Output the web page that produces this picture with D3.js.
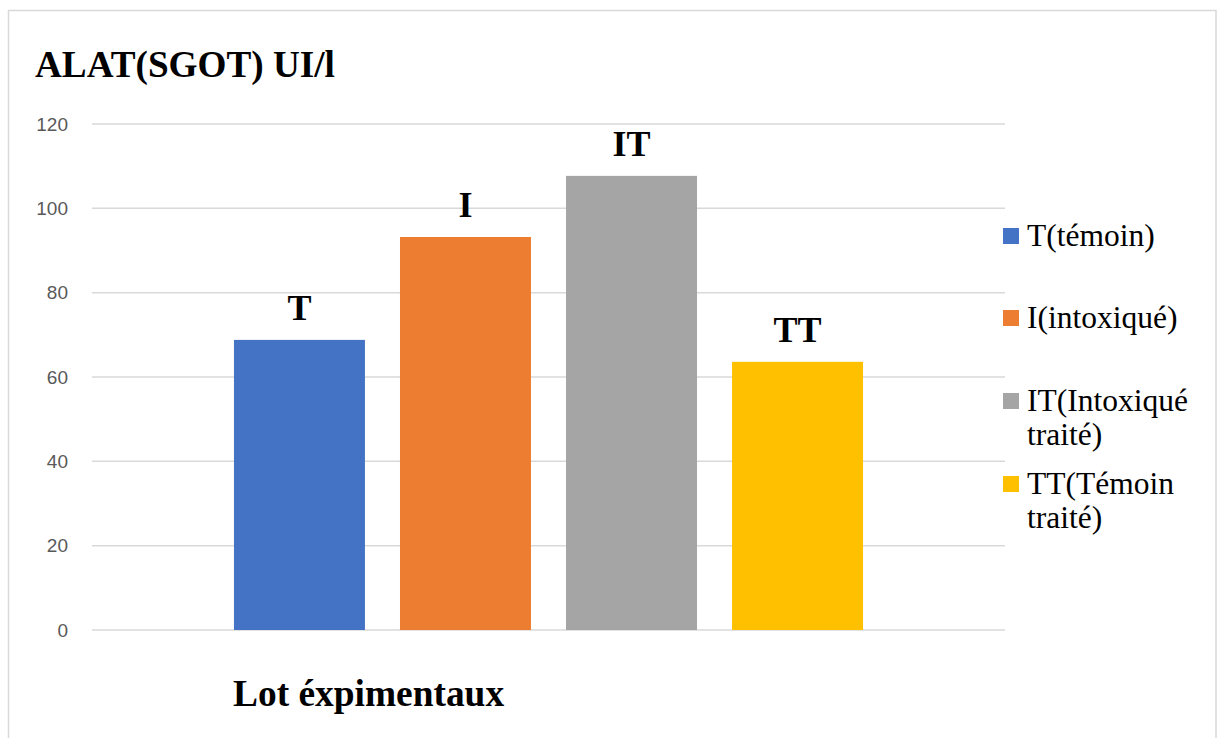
<!DOCTYPE html>
<html>
<head>
<meta charset="utf-8">
<script src="https://cdn.jsdelivr.net/npm/d3@7"></script>
<style>
  html, body { margin: 0; padding: 0; background: #fff; }
  svg { display: block; }
  .serif { font-family: "Liberation Serif", Tinos, "Times New Roman", Times, "DejaVu Serif", serif; }
  .sans { font-family: "Liberation Sans", Arimo, Arial, sans-serif; }
</style>
</head>
<body>
<svg id="chart" width="1217" height="738"></svg>
<script>
// ALAT (SGOT) activity per experimental group
const series = ["T", "I", "IT", "TT"];
const values = [68.8, 93.2, 107.7, 63.6];
const barLabels = ["T", "I", "IT", "TT"];
const legendLabels = [["T(témoin)"], ["I(intoxiqué)"], ["IT(Intoxiqué", "traité)"], ["TT(Témoin", "traité)"]];
const colors = ["#4472C4", "#ED7D31", "#A5A5A5", "#FFC000"];
const yTicks = [0, 20, 40, 60, 80, 100, 120];
const chartTitle = "ALAT(SGOT) UI/l";
const xTitle = "Lot éxpimentaux";

const svg = d3.select("#chart");

// outer frame
svg.append("rect")
  .attr("x", 8.5).attr("y", 10.5)
  .attr("width", 1207.5).attr("height", 740)
  .attr("fill", "#fff").attr("stroke", "#d9d9d9").attr("stroke-width", 1.5);

const plot = { left: 92, right: 1005, top: 124, bottom: 630 };

const y = d3.scaleLinear().domain([0, 120]).range([plot.bottom, plot.top]);
const x = d3.scaleBand().domain(series)
  .range([plot.left, plot.right])
  .paddingInner(0.211).paddingOuter(0.855);

// gridlines
svg.append("g").selectAll("line").data(yTicks).join("line")
  .attr("x1", plot.left).attr("x2", plot.right)
  .attr("y1", d => y(d)).attr("y2", d => y(d))
  .attr("stroke", "#d9d9d9").attr("stroke-width", 1.5);

// y axis labels
const yAxis = d3.axisLeft(y).tickValues(yTicks).tickSize(0).tickPadding(0);
const gy = svg.append("g").attr("transform", `translate(68,0)`).call(yAxis);
gy.select(".domain").remove();
gy.attr("font-family", null).attr("font-size", null);
gy.selectAll("text")
  .attr("class", "sans").attr("font-size", 19).attr("fill", "#595959");

// bars
svg.append("g").selectAll("rect").data(series).join("rect")
  .attr("x", d => x(d))
  .attr("width", x.bandwidth())
  .attr("y", (d, i) => y(values[i]))
  .attr("height", (d, i) => y(0) - y(values[i]))
  .attr("fill", (d, i) => colors[i]);

// bar labels
svg.append("g").selectAll("text").data(series).join("text")
  .attr("class", "serif")
  .attr("x", d => x(d) + x.bandwidth() / 2)
  .attr("y", (d, i) => y(values[i]) - 20)
  .attr("text-anchor", "middle")
  .attr("font-weight", "bold").attr("font-size", 36)
  .attr("fill", "#000")
  .text((d, i) => barLabels[i]);

// title
svg.append("text").attr("class", "serif")
  .attr("x", 35).attr("y", 77)
  .attr("font-weight", "bold").attr("font-size", 37.2)
  .attr("fill", "#000").text(chartTitle);

// x axis title
svg.append("text").attr("class", "serif")
  .attr("x", 233).attr("y", 706)
  .attr("font-weight", "bold").attr("font-size", 37.4)
  .attr("fill", "#000").text(xTitle);

// legend
const legendY = [236, 318, 401, 484];
const lg = svg.append("g").selectAll("g").data(series).join("g")
  .attr("transform", (d, i) => `translate(1003,${legendY[i]})`);
lg.append("rect")
  .attr("x", 0).attr("y", -8).attr("width", 16).attr("height", 16)
  .attr("fill", (d, i) => colors[i]);
lg.append("text").attr("class", "serif")
  .attr("x", 24).attr("y", 10)
  .attr("font-size", 31.5).attr("fill", "#000")
  .selectAll("tspan").data((d, i) => legendLabels[i]).join("tspan")
  .attr("x", 24).attr("dy", (d, j) => j === 0 ? 0 : 34)
  .text(d => d);
</script>
</body>
</html>
